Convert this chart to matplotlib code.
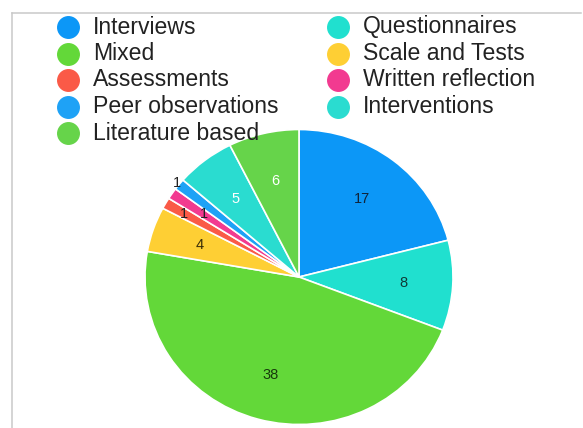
import matplotlib
matplotlib.use("Agg")
import matplotlib.pyplot as plt
from matplotlib.lines import Line2D
import numpy as np

# Study methods and how many studies used each one
methods = ["Interviews", "Questionnaires", "Mixed", "Scale and Tests",
           "Assessments", "Written reflection", "Peer observations",
           "Interventions", "Literature based"]
counts = [17, 8, 38, 4, 1, 1, 1, 5, 6]

colors = ["#0c97f7", "#20e0cf", "#63d839", "#fecf34", "#fa5a47",
          "#f23a90", "#1ea2f6", "#2adcd0", "#66d44a"]
label_colors = ["#10243a", "#0f3a36", "#173a0c", "#3a2e08", "#222222",
                "#222222", "#222222", "#ffffff", "#ffffff"]
label_radius = [0.67, 0.68, 0.69, 0.68, 0.86, 0.75, 1.015, 0.67, 0.67]

W, H = 583, 428
fig = plt.figure(figsize=(W / 100, H / 100), dpi=100)
fig.patch.set_facecolor("white")


def fx(px):
    return px / W


def fy(py):
    return 1 - py / H


# thin grey frame along the top and left
frame_kw = dict(color="#c9c9c9", linewidth=1.1, transform=fig.transFigure)
fig.add_artist(Line2D([fx(12), fx(581)], [fy(12.5), fy(12.5)], **frame_kw))
fig.add_artist(Line2D([fx(12), fx(12)], [fy(12.5), 0], **frame_kw))

# pie
cx, cy, rx, ry = 299, 277, 154, 147.5
ax = fig.add_axes([fx(cx - rx), fy(cy + ry), 2 * rx / W, 2 * ry / H])
wedges, _ = ax.pie(counts, colors=colors, startangle=90, counterclock=False,
                   wedgeprops=dict(edgecolor="white", linewidth=1.2))
ax.set_aspect("auto")
ax.set_xlim(-1, 1)
ax.set_ylim(-1, 1)
ax.axis("off")
for w in wedges:
    w.set_clip_on(False)

for w, n, r, c in zip(wedges, counts, label_radius, label_colors):
    mid = np.deg2rad((w.theta1 + w.theta2) / 2)
    ax.text(r * np.cos(mid), r * np.sin(mid), str(n), ha="center", va="center",
            fontsize=10.5, color=c, family="Liberation Sans", clip_on=False)

# legend: two columns, filled row by row
col_marker_x = [68, 338]
col_text_x = [93, 363]
row_y0, row_step = 27, 26.5
for i, (name, col) in enumerate(zip(methods, colors)):
    c, r = i % 2, i // 2
    y = row_y0 + r * row_step
    fig.add_artist(Line2D([fx(col_marker_x[c])], [fy(y)], marker="o",
                          markersize=15.5, color=col, linestyle="none",
                          transform=fig.transFigure))
    fig.text(fx(col_text_x[c]), fy(y + 6.5), name, ha="left", va="baseline",
             fontsize=16.6, color="#222222", family="Liberation Sans")

fig.savefig("out.png", dpi=100, facecolor="white")
